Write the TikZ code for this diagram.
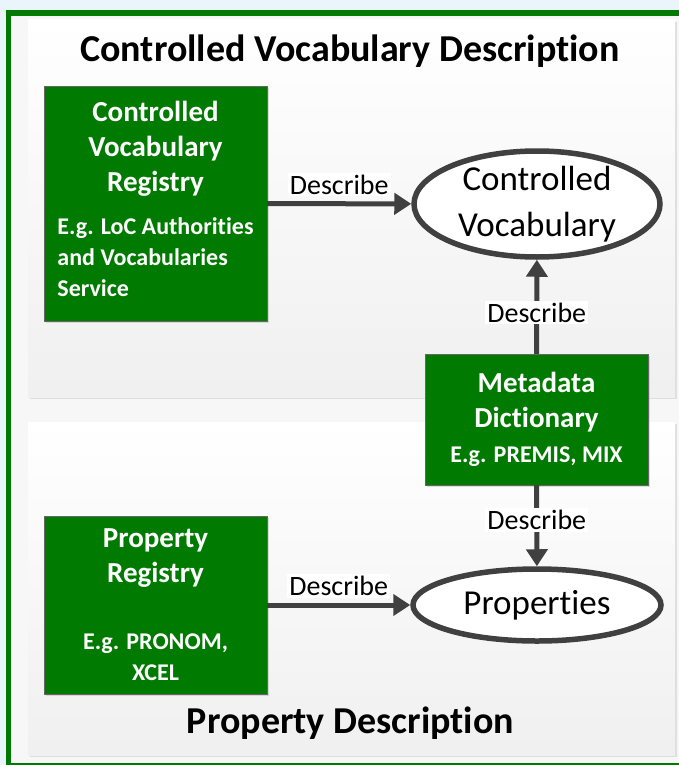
\documentclass[tikz,border=0pt]{standalone}
\usepackage{fontspec}
\setmainfont{Carlito}[Ligatures=NoCommon]
\usetikzlibrary{arrows.meta,shapes,shadows}
\tikzset{>={Triangle[length=17pt,width=21pt]}}
\definecolor{regreen}{RGB}{0,122,0}
\definecolor{darkline}{RGB}{64,64,64}
\definecolor{skyblue}{RGB}{234,245,251}
\newcommand{\headfont}{\fontsize{29}{35}\selectfont\bfseries}
\newcommand{\egfont}{\fontsize{24}{31}\selectfont}
\tikzstyle{registry}=[rectangle,draw=black!60,fill=regreen,text=white,font=\headfont,align=center,minimum width=223pt,inner sep=0pt,drop shadow={shadow xshift=2pt,shadow yshift=-2pt,opacity=0.25}]
\tikzstyle{concept}=[ellipse,draw=darkline,line width=5.5pt,fill=white,font=\fontsize{35}{46}\selectfont,align=center,inner xsep=0pt,inner ysep=-20pt]
\tikzstyle{describe}=[->,draw=darkline,line width=5pt]
\tikzstyle{verb}=[fill=white,font=\fontsize{28}{34}\selectfont,inner sep=2pt]
\tikzstyle{heading}=[font=\fontsize{38}{44}\selectfont\bfseries,anchor=base]

\begin{document}
\begin{tikzpicture}[x=1pt,y=-1pt]
	\useasboundingbox (0,0) rectangle (679,765);
	\clip (0,0) rectangle (679,765);
	\fill[skyblue] (0,0) rectangle (679,765);
	\draw[regreen,line width=5.5pt,fill=black!3] (8.5,13) rectangle (700,766);
	
	\fill[black!13] (30,22) rectangle (677,399);
	\shade[top color=white,bottom color=black!6] (28,20) rectangle (675,397);
	\fill[black!13] (30,424) rectangle (677,757);
	\shade[top color=white,bottom color=black!6] (28,422) rectangle (675,755);
	
	\node[heading] (cvtitle) at (350,62) {Controlled Vocabulary Description};
	\node[heading] (proptitle) at (350.5,733) {Property Description};
	
	\node[registry,minimum height=235pt] (cvreg) at (155.5,203.5) {Controlled\\Vocabulary\\Registry\\[8pt]\egfont\begin{tabular}[t]{@{}l@{}}E.g. LoC Authorities\\and Vocabularies\\Service\end{tabular}};
	\node[registry,minimum height=178pt] (propreg) at (155.5,605) {Property\\Registry\\[32pt]\egfont E.g. PRONOM,\\[-4pt]\egfont XCEL};
	\node[registry,minimum height=131pt] (mdict) at (536.5,419.5) {Metadata\\Dictionary\\\egfont E.g. PREMIS, MIX};
	
	\node[concept,minimum width=246pt,minimum height=106pt] (cvocab) at (537,204) {Controlled\\Vocabulary};
	\node[concept,minimum width=248pt,minimum height=72pt] (props) at (537,605) {Properties};
	
	\draw[describe] (cvreg) -- node[verb,above=5pt] (cvdesc) {Describe} (cvocab);
	\draw[describe] (mdict) -- node[verb,pos=0.44] (updesc) {Describe} (cvocab);
	\draw[describe] (mdict) -- node[verb,pos=0.43] (downdesc) {Describe} (props);
	\draw[describe] (propreg) -- node[verb,above=5pt] (prdesc) {Describe} (props);
\end{tikzpicture}
\end{document}
